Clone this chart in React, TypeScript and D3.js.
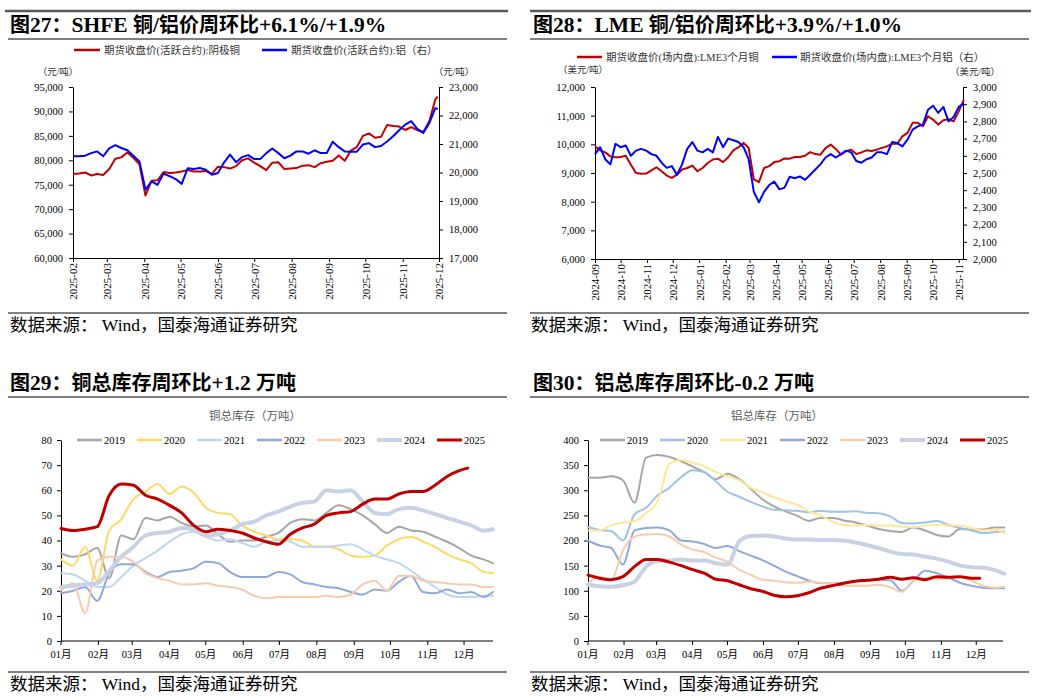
import React, { useEffect, useRef } from 'react';
import * as d3 from 'd3';

const SERIF = "'Liberation Serif', 'Times New Roman', 'Noto Sans CJK SC', serif";

// ---------- 图27 SHFE 铜/铝 ----------
const shfeStart = new Date(2025, 1, 1);
const shfeEnd = new Date(2025, 11, 1);
const shfeDays = [...d3.range(0, 301, 5), 302];
const shfeCopper = [
  77200, 77300, 77500, 76900, 77200, 77000, 78200, 80300, 80600, 81600,
  80500, 79200, 72800, 75800, 75900, 77600, 77400, 77500, 77700, 78000,
  77700, 77700, 77800, 77200, 78700, 78600, 78300, 78800, 80000, 80400,
  79500, 78800, 78000, 79500, 79600, 78200, 78300, 78400, 78900, 79000,
  78600, 79400, 79700, 79900, 81000, 79900, 82000, 82700, 85000, 85500,
  84600, 84800, 87200, 87000, 86900, 86200, 86800, 86200, 85800, 88000,
  92500, 93000,
];
const shfeAlu = [
  20570, 20570, 20590, 20680, 20740, 20570, 20850, 20960, 20860, 20780,
  20590, 20390, 19400, 19690, 19570, 19960, 19870, 19770, 19600, 20150,
  20120, 20160, 20100, 19920, 19980, 20350, 20630, 20360, 20540, 20610,
  20470, 20470, 20680, 20840, 20680, 20500, 20590, 20740, 20740, 20660,
  20780, 20680, 20680, 21080, 20890, 20740, 20730, 20730, 20980, 21030,
  20890, 20930, 21090, 21270, 21480, 21680, 21800, 21530, 21390, 21740,
  22260, 22230,
];
const shfeLeftTicks = [60000, 65000, 70000, 75000, 80000, 85000, 90000, 95000];
const shfeRightTicks = [17000, 18000, 19000, 20000, 21000, 22000, 23000];

// ---------- 图28 LME 铜/铝 ----------
const lmeStart = new Date(2024, 8, 1);
const lmeEnd = new Date(2025, 10, 6);
const lmeDays = d3.range(0, 433, 6);
const lmeCopper = [
  9930, 9790, 9720, 9580, 9550, 9560, 9600, 9290, 9000, 8970,
  8980, 9090, 9200, 9060, 8910, 8830, 8940, 9120, 9175, 9260,
  9060, 9175, 9350, 9470, 9500, 9380, 9550, 9790, 9900, 10050,
  9870, 8780, 8680, 9175, 9240, 9380, 9410, 9510, 9500, 9560,
  9560, 9600, 9730, 9660, 9640, 9870, 9990, 9840, 9640, 9760,
  9815, 9660, 9720, 9790, 9770, 9815, 9875, 9930, 10020, 10020,
  10280, 10400, 10750, 10750, 10630, 10980, 10860, 10690, 10840, 10880,
  10800, 11150, 11560,
];
const lmeAlu = [
  2610, 2650, 2580, 2550, 2670, 2650, 2660, 2600, 2630, 2640,
  2630, 2610, 2600, 2560, 2530, 2540, 2490, 2550, 2640, 2680,
  2630, 2620, 2640, 2620, 2710, 2650, 2700, 2690, 2680, 2650,
  2580, 2390, 2330, 2390, 2430, 2450, 2405, 2415, 2478, 2470,
  2480, 2460, 2490, 2520, 2550, 2590, 2610, 2590, 2610, 2630,
  2620, 2570, 2560, 2580, 2590, 2620, 2620, 2610, 2680, 2674,
  2655, 2694, 2752, 2771, 2781, 2868, 2891, 2849, 2884, 2800,
  2826, 2884, 2903,
];
const lmeLeftTicks = [6000, 7000, 8000, 9000, 10000, 11000, 12000];
const lmeRightTicks = [2000, 2100, 2200, 2300, 2400, 2500, 2600, 2700, 2800, 2900, 3000];

// ---------- 库存 (万吨) ----------
const invYears = ['2019', '2020', '2021', '2022', '2023', '2024', '2025'];
const invDays = [...d3.range(0, 351, 10), 358];
const invDays2025 = [...d3.range(0, 331, 10), 337];
const monthLabels = ['01月', '02月', '03月', '04月', '05月', '06月', '07月', '08月', '09月', '10月', '11月', '12月'];

const cu2019 = [35, 33.5, 34.5, 37, 25, 42, 40.5, 49, 48, 49.5, 47, 45.5, 46, 42.5, 39.5, 40, 40, 41.5, 43, 47, 48.5, 48, 51, 54, 52.5, 50, 46.5, 43, 45.5, 44, 43.5, 41.5, 39.5, 37, 34, 32.5, 31];
const cu2020 = [32.5, 30, 37.5, 24, 44, 48.5, 56.5, 59.5, 62.5, 58.5, 61.5, 59, 53, 51, 50.5, 46, 43.5, 42, 40.5, 40.5, 40, 37.5, 37.5, 36.5, 34, 33.5, 34, 38, 40.5, 41.5, 39.5, 37.5, 34.5, 32.5, 31, 27.5, 27];
const cu2021 = [27, 26.5, 24, 21.5, 21.5, 25.5, 30, 33, 36, 39.5, 42.5, 43.5, 41.5, 40, 40.5, 39, 37.5, 39.5, 40, 39.5, 37.5, 37.5, 37.5, 38, 38.5, 36.5, 34, 32.5, 31, 28, 24.5, 21.5, 18.5, 17.5, 17.5, 18, 18];
const cu2022 = [19, 20, 21.5, 16, 27, 30.5, 30.5, 27.5, 25.5, 27.5, 28, 29, 31.5, 31, 27.5, 25.5, 25.5, 25.5, 27.5, 26.5, 23.5, 22.5, 21.5, 21, 19.5, 18.5, 20.5, 20, 23.5, 26, 19.5, 19, 20.5, 19, 19.5, 17.5, 19.5];
const cu2023 = [20, 23, 11, 32, 33.5, 33.5, 31.5, 27, 25, 24, 22.5, 22.5, 23, 22, 21.5, 20.5, 18, 17, 17.5, 17.5, 17.5, 17.5, 18, 17.5, 18.5, 22.5, 24, 20, 26, 26, 24, 23.5, 23, 22.5, 22.5, 21.5, 21.5];
const cu2024 = [21.5, 22, 22.5, 23, 28, 33.5, 37.5, 42, 43, 43.5, 45, 44.5, 42, 42.5, 44, 46.5, 47.5, 50, 51.5, 53.5, 55, 55.5, 60, 59.5, 60, 55.5, 51, 50.5, 52.5, 53, 52, 50.5, 49, 47.5, 46, 44, 44.5];
const cu2025 = [44.8, 44, 44.5, 45.5, 58, 62.5, 62, 58, 56.5, 54, 51, 46, 43.5, 44.5, 44, 43, 41, 39.5, 38.5, 42.5, 45, 46.5, 50, 51, 51.5, 54.5, 56.5, 56.5, 58.5, 59.5, 59.5, 62, 65.5, 67.8, 68.8];

const al2019 = [325, 325, 328, 320, 275, 365, 370, 366, 358, 347, 336, 322, 333, 322, 303, 282, 268, 258, 249, 239, 245, 245, 240, 236, 230, 223, 219, 217, 226, 220, 211, 208, 223, 222, 222, 226, 226];
const al2020 = [227, 221, 219, 200, 252, 265, 290, 305, 326, 340, 336, 318, 297, 287, 277, 268, 261, 260, 259, 256, 259, 257, 257, 258, 255, 254, 248, 235, 234, 236, 239, 231, 225, 220, 215, 217, 218];
const al2021 = [220, 220, 230, 236, 238, 255, 278, 352, 360, 355, 348, 336, 328, 320, 305, 296, 286, 278, 271, 258, 250, 238, 231, 230, 231, 230, 230, 228, 226, 230, 232, 230, 230, 225, 220, 222, 215];
const al2022 = [200, 190, 185, 152, 220, 225, 226, 220, 200, 198, 193, 185, 189, 179, 170, 161, 150, 138, 129, 120, 115, 115, 116, 119, 121, 122, 121, 100, 120, 140, 135, 126, 116, 110, 106, 105, 105];
const al2023 = [115, 128, 122, 180, 208, 212, 213, 208, 192, 182, 177, 166, 158, 142, 132, 122, 120, 117, 116, 118, 116, 115, 110, 110, 110, 112, 107, 98, 120, 125, 124, 125, 128, 120, 110, 106, 108];
const al2024 = [112, 109, 108, 111, 118, 148, 159, 160, 162, 160, 160, 155, 152, 198, 209, 210, 208, 204, 202, 202, 201, 201, 200, 196, 191, 185, 178, 173, 172, 168, 164, 158, 150, 147, 146, 141, 134];
const al2025 = [131, 125, 122, 128, 148, 162, 162, 157, 150, 142, 135, 123, 120, 112, 104, 99, 91, 88, 90, 96, 105, 110, 115, 119, 121, 123, 127, 123, 126, 122, 128, 127, 128, 125, 125];

const cuColors = ['#A6A6A6', '#FFD966', '#BDD7EE', '#8EA9DB', '#F8CBAD', '#C9D1E5', '#C00000'];
const alColors = ['#A6A6A6', '#9DC3E6', '#FFE699', '#8EA9DB', '#F8CBAD', '#C9D1E5', '#C00000'];
const invWidths = [2, 2, 2, 2, 2, 4, 3];

type Sel = d3.Selection<SVGSVGElement, unknown, null, undefined>;

const CJK_RE = /[\u3000-\u303f\u4e00-\u9fff\uff00-\uffef]/;

function txt(svg: Sel, x: number, y: number, s: string, size: number, opts: any = {}) {
  return svg.append('text')
    .attr('x', x).attr('y', y)
    .attr('font-family', SERIF)
    .attr('font-size', size)
    .attr('font-weight', opts.weight || 'normal')
    .attr('fill', opts.fill || '#000')
    .attr('text-anchor', opts.anchor || 'start')
    .style('white-space', 'pre')
    .text(s);
}

// CJK and latin runs at different sizes, like the Song + Times mix of the original
function mixed(svg: Sel, x: number, y: number, s: string, cjk: number, latin: number, weight = 'normal') {
  const t = svg.append('text').attr('x', x).attr('y', y)
    .attr('font-family', SERIF).attr('font-weight', weight).attr('fill', '#000')
    .style('white-space', 'pre');
  const runs = s.match(/[\u3000-\u303f\u4e00-\u9fff\uff00-\uffef]+|[^\u3000-\u303f\u4e00-\u9fff\uff00-\uffef]+/g) || [];
  runs.forEach(r => {
    t.append('tspan').attr('font-size', CJK_RE.test(r) ? cjk : latin).text(r);
  });
}

function hline(svg: Sel, x1: number, x2: number, y: number, color: string, w: number) {
  svg.append('line').attr('x1', x1).attr('x2', x2).attr('y1', y).attr('y2', y)
    .attr('stroke', color).attr('stroke-width', w);
}

function styleAxis(g: any) {
  g.attr('font-family', SERIF).attr('font-size', 10.5);
  g.selectAll('text').attr('fill', '#000');
}

function drawPrice(svg: Sel, c: any) {
  const x = d3.scaleTime().domain([c.start, c.end]).range([c.left, c.right]);
  const yL = d3.scaleLinear().domain([c.leftTicks[0], c.leftTicks[c.leftTicks.length - 1]]).range([c.bottom, c.top]);
  const yR = d3.scaleLinear().domain([c.rightTicks[0], c.rightTicks[c.rightTicks.length - 1]]).range([c.bottom, c.top]);
  const fmt = d3.format(',');

  const gl = svg.append('g').attr('transform', `translate(${c.left},0)`)
    .call(d3.axisLeft(yL).tickValues(c.leftTicks).tickFormat(fmt as any).tickSize(4).tickSizeOuter(0).tickPadding(6));
  styleAxis(gl);
  const gr = svg.append('g').attr('transform', `translate(${c.right},0)`)
    .call(d3.axisRight(yR).tickValues(c.rightTicks).tickFormat(fmt as any).tickSize(4).tickSizeOuter(0).tickPadding(6));
  styleAxis(gr);
  const months = d3.timeMonth.range(c.start, d3.timeDay.offset(c.end, 1));
  const gb = svg.append('g').attr('transform', `translate(0,${c.bottom})`)
    .call(d3.axisBottom(x).tickValues(months).tickFormat(d3.timeFormat('%Y-%m') as any).tickSize(4).tickSizeOuter(0));
  styleAxis(gb);
  gb.attr('font-size', 11);
  gb.selectAll('text')
    .attr('transform', 'rotate(-90)')
    .attr('text-anchor', 'end')
    .attr('x', -5).attr('y', 0).attr('dy', '0.35em');

  const lineL = d3.line<number>()
    .x((_, i) => x(d3.timeDay.offset(c.start, c.days[i])))
    .y(v => yL(v));
  const lineR = d3.line<number>()
    .x((_, i) => x(d3.timeDay.offset(c.start, c.days[i])))
    .y(v => yR(v));
  svg.append('path').datum(c.leftValues).attr('d', lineL).attr('fill', 'none')
    .attr('stroke', '#C00000').attr('stroke-width', 2).attr('stroke-linejoin', 'round');
  svg.append('path').datum(c.rightValues).attr('d', lineR).attr('fill', 'none')
    .attr('stroke', '#0000FF').attr('stroke-width', 2).attr('stroke-linejoin', 'round');
}

function drawInv(svg: Sel, c: any) {
  const x = d3.scaleLinear().domain([0, c.endDay]).range([c.left, c.right]);
  const y = d3.scaleLinear().domain([0, c.ticks[c.ticks.length - 1]]).range([c.bottom, c.top]);
  const jan1 = new Date(2025, 0, 1);
  const monthDays = d3.timeMonth.range(jan1, new Date(2026, 0, 1)).map(m => d3.timeDay.count(jan1, m));

  const gl = svg.append('g').attr('transform', `translate(${c.left},0)`)
    .call(d3.axisLeft(y).tickValues(c.ticks).tickSize(4).tickSizeOuter(0).tickPadding(5));
  styleAxis(gl);
  hline(svg, c.left, c.right, c.bottom, '#000', 1);
  monthDays.forEach((d, i) => {
    svg.append('line').attr('x1', x(d)).attr('x2', x(d)).attr('y1', c.bottom).attr('y2', c.bottom + 4)
      .attr('stroke', '#000').attr('stroke-width', 1);
    txt(svg, x(d), c.bottom + 17, monthLabels[i], 10.5, { anchor: 'middle' });
  });

  c.series.forEach((vals: number[], k: number) => {
    const days = k === 6 ? invDays2025 : invDays;
    const line = d3.line<number>()
      .x((_, i) => x(days[i]))
      .y(v => y(v))
      .curve(d3.curveMonotoneX);
    svg.append('path').datum(vals).attr('d', line).attr('fill', 'none')
      .attr('stroke', c.colors[k]).attr('stroke-width', invWidths[k])
      .attr('stroke-linejoin', 'round').attr('stroke-linecap', 'round');
  });

  invYears.forEach((name, k) => {
    const lx = c.legendX + k * 60;
    svg.append('line').attr('x1', lx).attr('x2', lx + 25).attr('y1', c.top).attr('y2', c.top)
      .attr('stroke', c.colors[k]).attr('stroke-width', invWidths[k] === 2 ? 2.5 : invWidths[k]);
    txt(svg, lx + 27, c.top + 4, name, 10.5);
  });

  txt(svg, c.subX, 420, c.subtitle, 11.5, { anchor: 'middle', fill: '#595959' });
}

export default function App() {
  const ref = useRef<SVGSVGElement>(null);

  useEffect(() => {
    const svg = d3.select(ref.current) as Sel;
    svg.selectAll('*').remove();

    // frame lines
    hline(svg, 5, 508, 11, '#595959', 2.5);
    hline(svg, 530, 1031, 11, '#595959', 2.5);
    hline(svg, 8, 507, 39, '#000', 1);
    hline(svg, 530, 1029, 39, '#000', 1);
    hline(svg, 8, 507, 313, '#000', 1);
    hline(svg, 530, 1029, 313, '#000', 1);
    hline(svg, 8, 507, 397, '#7F7F7F', 1.8);
    hline(svg, 530, 1029, 397, '#7F7F7F', 1.8);
    hline(svg, 8, 507, 672, '#000', 1);
    hline(svg, 530, 1029, 672, '#000', 1);

    // titles
    mixed(svg, 10, 32, '图27：SHFE 铜/铝价周环比+6.1%/+1.9%', 20, 21.5, 'bold');
    mixed(svg, 533, 32, '图28：LME 铜/铝价周环比+3.9%/+1.0%', 20, 21.5, 'bold');
    mixed(svg, 10, 390, '图29：铜总库存周环比+1.2 万吨', 20, 21.5, 'bold');
    mixed(svg, 533, 390, '图30：铝总库存周环比-0.2 万吨', 20, 21.5, 'bold');

    // sources
    const src = '数据来源： Wind，国泰海通证券研究';
    txt(svg, 10, 331, src, 17.5);
    txt(svg, 531, 331, src, 17.5);
    txt(svg, 10, 690, src, 17.5);
    txt(svg, 531, 690, src, 17.5);

    // price legends & units
    hline(svg, 74, 100, 50, '#C00000', 2.5);
    txt(svg, 104, 53.5, '期货收盘价(活跃合约):阴极铜', 10.5, { fill: '#333' });
    hline(svg, 262, 287, 50, '#0000FF', 2.5);
    txt(svg, 291, 53.5, '期货收盘价(活跃合约):铝（右）', 10.5, { fill: '#333' });
    txt(svg, 58, 75, '（元/吨）', 9.5, { anchor: 'middle', fill: '#333' });
    txt(svg, 454, 75, '（元/吨）', 9.5, { anchor: 'middle', fill: '#333' });

    hline(svg, 577, 602, 57, '#C00000', 2.5);
    txt(svg, 606, 60.5, '期货收盘价(场内盘):LME3个月铜', 10.5, { fill: '#333' });
    hline(svg, 772, 797, 57, '#0000FF', 2.5);
    txt(svg, 800, 60.5, '期货收盘价(场内盘):LME3个月铝（右）', 10.5, { fill: '#333' });
    txt(svg, 583, 73, '（美元/吨）', 9.5, { anchor: 'middle', fill: '#333' });
    txt(svg, 975, 75, '（美元/吨）', 9.5, { anchor: 'middle', fill: '#333' });

    drawPrice(svg, {
      left: 73, right: 439, top: 87, bottom: 258,
      start: shfeStart, end: shfeEnd, days: shfeDays,
      leftTicks: shfeLeftTicks, rightTicks: shfeRightTicks,
      leftValues: shfeCopper, rightValues: shfeAlu,
    });
    drawPrice(svg, {
      left: 595, right: 963, top: 87, bottom: 259,
      start: lmeStart, end: lmeEnd, days: lmeDays,
      leftTicks: lmeLeftTicks, rightTicks: lmeRightTicks,
      leftValues: lmeCopper, rightValues: lmeAlu,
    });

    drawInv(svg, {
      left: 61, right: 493, top: 440, bottom: 641, endDay: 358,
      ticks: [0, 10, 20, 30, 40, 50, 60, 70, 80],
      series: [cu2019, cu2020, cu2021, cu2022, cu2023, cu2024, cu2025],
      colors: cuColors, legendX: 77, subX: 255, subtitle: '铜总库存（万吨）',
    });
    drawInv(svg, {
      left: 588, right: 1003, top: 440, bottom: 641, endDay: 357,
      ticks: [0, 50, 100, 150, 200, 250, 300, 350, 400],
      series: [al2019, al2020, al2021, al2022, al2023, al2024, al2025],
      colors: alColors, legendX: 600, subX: 777, subtitle: '铝总库存（万吨）',
    });
  }, []);

  return (
    <svg
      ref={ref}
      width={1037}
      height={697}
      style={{ position: 'absolute', left: 0, top: 0, background: '#fff' }}
    />
  );
}
